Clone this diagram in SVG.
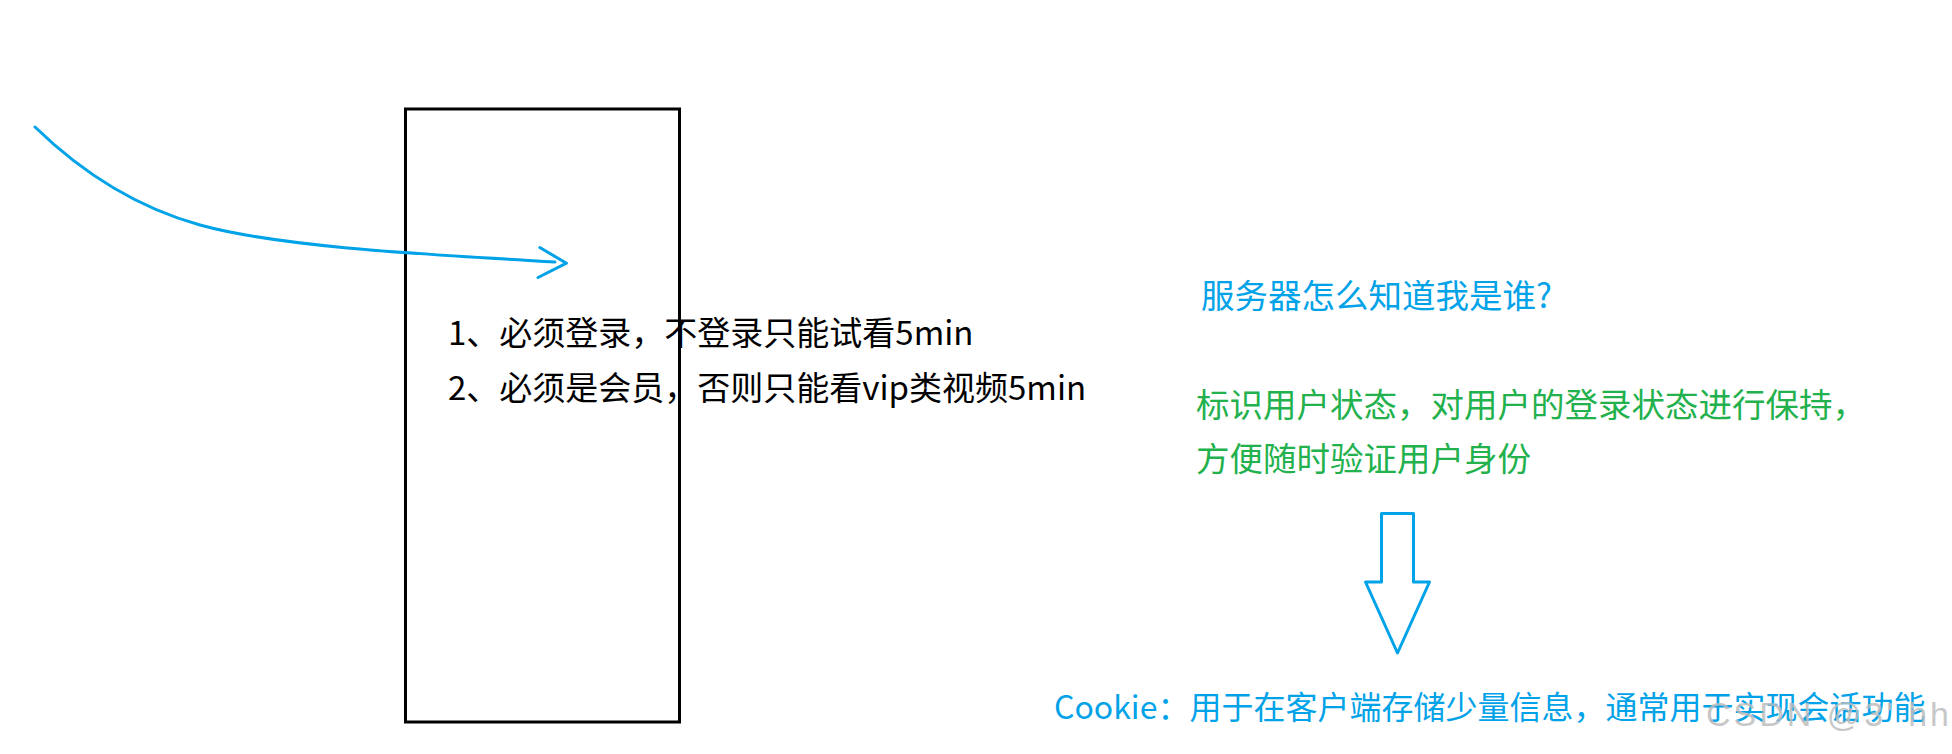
<svg xmlns="http://www.w3.org/2000/svg" width="1952" height="754" viewBox="0 0 1952 754">
  <style>
    .cn { font-family: "Microsoft YaHei", "Noto Sans CJK SC", "Noto Sans", sans-serif; }
    .black { fill: #000000; font-size: 33px; }
    .blue { fill: #00A2E8; font-size: 33.5px; }
    .green { fill: #22B14C; font-size: 33.5px; }
    .cookie { fill: #00A2E8; font-size: 32px; }
    .wm { font-family: "Liberation Sans", Arial, sans-serif; font-size: 34px; letter-spacing: 3px; fill: #bdbdbd; fill-opacity: 0.85; }
    .pen { fill: none; stroke: #00A2E8; stroke-width: 3; stroke-linecap: round; stroke-linejoin: round; }
  </style>
  <defs>
    <marker id="chev" markerUnits="userSpaceOnUse" markerWidth="40" markerHeight="40" refX="0" refY="0" viewBox="-30 -20 40 40" orient="auto" overflow="visible">
      <path d="M-16,-13.5 L11.5,0.5 L-16,16.5" fill="none" stroke="#00A2E8" stroke-width="3" stroke-linecap="round" stroke-linejoin="round"/>
    </marker>
  </defs>
  <rect width="1952" height="754" fill="#ffffff"/>

  <g id="box">
    <rect x="405.5" y="109" width="274" height="613" fill="none" stroke="#000000" stroke-width="3"/>
  </g>

  <g id="rules">
    <text class="cn black" x="448" y="345">1、必须登录，不登录只能试看5min</text>
    <text class="cn black" x="448" y="400">2、必须是会员，否则只能看vip类视频5min</text>
  </g>

  <g id="question">
    <text class="cn blue" x="1201" y="308">服务器怎么知道我是谁?</text>
  </g>

  <g id="purpose">
    <text class="cn green" x="1196" y="417">标识用户状态，对用户的登录状态进行保持，</text>
    <text class="cn green" x="1196" y="471">方便随时验证用户身份</text>
  </g>

  <g id="cookie">
    <text class="cn cookie" x="1054" y="719">Cookie：用于在客户端存储少量信息，通常用于实现会话功能</text>
  </g>

  <g id="connectors">
    <path class="pen" d="M35,127 Q110,200 200,225 C280,247 420,254 555,262" marker-end="url(#chev)"/>
    <polygon class="pen" points="1381.5,513.5 1413.5,513.5 1413.5,582 1429.5,582 1397.5,653 1365.5,582 1381.5,582"/>
  </g>

  <text class="wm" x="1706" y="726">CSDN @3' hh</text>
</svg>
